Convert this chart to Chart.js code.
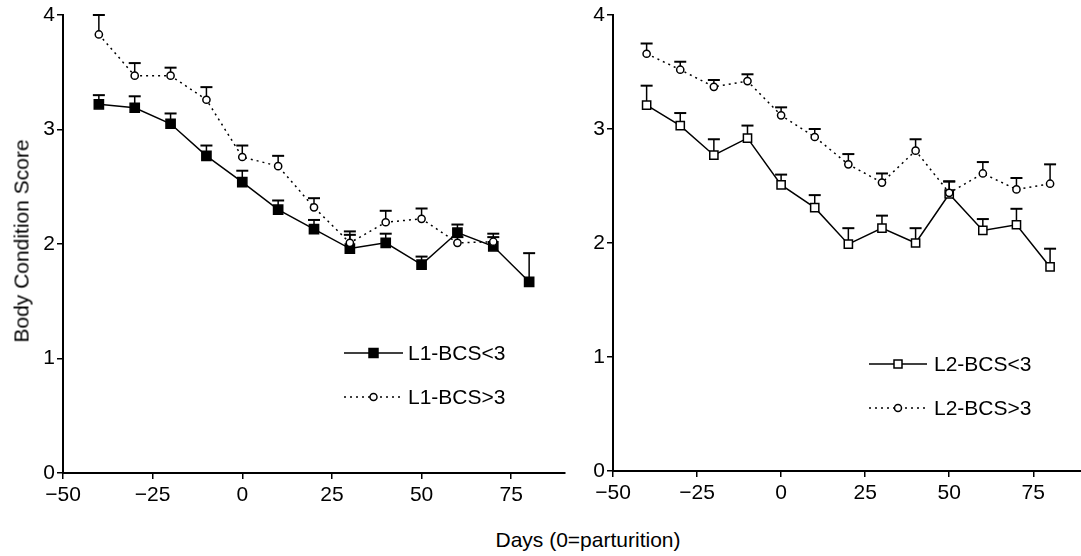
<!DOCTYPE html>
<html>
<head>
<meta charset="utf-8">
<script src="https://cdn.jsdelivr.net/npm/chart.js@4/dist/chart.umd.min.js"></script>
<style>
  body { margin: 0; background: #fff; overflow: hidden; width: 1081px; height: 556px; position: relative; }
  canvas { position: absolute; top: 0; }
  #leftChart { left: 0; }
  #rightChart { left: 550px; }
  .axis-title { position: absolute; font-family: "Liberation Sans", Arial, sans-serif; font-size: 21px; line-height: 21px; white-space: nowrap; color: #000; }
  #yTitle { left: 21px; top: 241px; transform: translate(-50%, -50%) rotate(-90deg); }
  #xTitle { left: 588px; top: 529px; transform: translateX(-50%); }
</style>
</head>
<body>
<canvas id="leftChart" width="580" height="515"></canvas>
<canvas id="rightChart" width="541" height="515"></canvas>
<div class="axis-title" id="yTitle">Body Condition Score</div>
<div class="axis-title" id="xTitle">Days (0=parturition)</div>
<script>
// Days relative to parturition
const days = [-40, -30, -20, -10, 0, 10, 20, 30, 40, 50, 60, 70, 80];
const xTicks = [-50, -25, 0, 25, 50, 75];
const yTicks = [0, 1, 2, 3, 4];

// Lactation 1
const l1LowMean = [3.22, 3.19, 3.05, 2.77, 2.54, 2.30, 2.13, 1.96, 2.01, 1.82, 2.10, 1.98, 1.67];
const l1LowSE   = [0.08, 0.10, 0.09, 0.09, 0.10, 0.08, 0.08, 0.12, 0.08, 0.07, 0.07, 0.08, 0.25];
const l1HighMean = [3.83, 3.47, 3.47, 3.26, 2.76, 2.68, 2.32, 2.01, 2.19, 2.22, 2.01, 2.02];
const l1HighSE   = [0.17, 0.11, 0.07, 0.11, 0.10, 0.09, 0.08, 0.10, 0.10, 0.09, 0.05, 0.07];

// Lactation 2
const l2LowMean = [3.21, 3.03, 2.77, 2.92, 2.51, 2.31, 1.99, 2.13, 2.00, 2.43, 2.11, 2.16, 1.79];
const l2LowSE   = [0.17, 0.11, 0.14, 0.11, 0.09, 0.11, 0.14, 0.11, 0.13, 0.11, 0.10, 0.14, 0.16];
const l2HighMean = [3.66, 3.52, 3.37, 3.42, 3.12, 2.93, 2.69, 2.53, 2.81, 2.44, 2.61, 2.47, 2.52];
const l2HighSE   = [0.09, 0.07, 0.06, 0.06, 0.07, 0.07, 0.09, 0.08, 0.10, 0.10, 0.10, 0.10, 0.17];

const FONT = '"Liberation Sans", Arial, sans-serif';
const DOTS = [2, 4];

function toPoints(means) {
    return means.map((v, i) => ({ x: days[i], y: v }));
}

// Upward-only error bars with a cap
const errorBars = {
    id: 'errorBars',
    beforeDatasetsDraw(chart) {
        const ctx = chart.ctx;
        const yScale = chart.scales.y;
        chart.data.datasets.forEach((ds, i) => {
            const meta = chart.getDatasetMeta(i);
            ctx.save();
            ctx.strokeStyle = '#000';
            meta.data.forEach((pt, j) => {
                const top = yScale.getPixelForValue(ds.data[j].y + ds.se[j]);
                ctx.lineWidth = 1.5;
                ctx.beginPath();
                ctx.moveTo(pt.x, pt.y);
                ctx.lineTo(pt.x, top);
                ctx.stroke();
                ctx.lineWidth = 2;
                ctx.beginPath();
                ctx.moveTo(pt.x - 6, top);
                ctx.lineTo(pt.x + 6, top);
                ctx.stroke();
            });
            ctx.restore();
        });
    }
};

// Legend drawn inside the plot: line, marker in the middle, text
const lineLegend = {
    id: 'lineLegend',
    afterDraw(chart, args, opts) {
        const ctx = chart.ctx;
        opts.items.forEach((item, k) => {
            const y = opts.rows[k];
            ctx.save();
            ctx.strokeStyle = '#000';
            ctx.lineWidth = 1.5;
            ctx.setLineDash(item.dash);
            ctx.beginPath();
            ctx.moveTo(opts.x1, y);
            ctx.lineTo(opts.x2, y);
            ctx.stroke();
            ctx.setLineDash([]);
            const mx = (opts.x1 + opts.x2) / 2;
            ctx.fillStyle = item.fill;
            ctx.beginPath();
            if (item.style === 'rect') {
                ctx.rect(mx - item.size / 2, y - item.size / 2, item.size, item.size);
            } else {
                ctx.arc(mx, y, item.size / 2, 0, Math.PI * 2);
            }
            ctx.fill();
            ctx.stroke();
            ctx.fillStyle = '#000';
            ctx.font = '21px ' + FONT;
            ctx.textBaseline = 'middle';
            ctx.textAlign = 'left';
            ctx.fillText(item.label, opts.xt, y + 1);
            ctx.restore();
        });
    }
};

function makeScales(xMax, xHeight) {
    return {
        x: {
            type: 'linear',
            min: -50,
            max: xMax,
            afterBuildTicks: s => { s.ticks = xTicks.map(v => ({ value: v })); },
            afterFit: s => { s.height = xHeight; },
            grid: { display: true, drawOnChartArea: false, drawTicks: true, tickLength: 6, color: '#000', lineWidth: 1.5 },
            border: { display: true, color: '#000', width: 2 },
            ticks: {
                color: '#000',
                font: { family: FONT, size: 21 },
                padding: 4,
                maxRotation: 0,
                callback: v => (v < 0 ? '\u2212' + Math.abs(v) : String(v))
            }
        },
        y: {
            type: 'linear',
            min: 0,
            max: 4,
            afterBuildTicks: s => { s.ticks = yTicks.map(v => ({ value: v })); },
            afterFit: s => { s.width = 63; },
            grid: { display: true, drawOnChartArea: false, drawTicks: true, tickLength: 6, color: '#000', lineWidth: 1.5 },
            border: { display: true, color: '#000', width: 2 },
            ticks: {
                color: '#000',
                font: { family: FONT, size: 21 },
                padding: 2
            }
        }
    };
}

function lowSeries(means, se) {
    return {
        data: toPoints(means),
        se: se,
        borderColor: '#000',
        borderWidth: 1.5,
        pointStyle: 'rect',
        pointRadius: 6.3,
        pointBorderWidth: 1.5,
        pointBorderColor: '#000',
        order: 1
    };
}

function highSeries(means, se) {
    return {
        data: toPoints(means),
        se: se,
        borderColor: '#000',
        borderWidth: 1.5,
        borderDash: DOTS,
        pointStyle: 'circle',
        pointRadius: 3.6,
        pointBorderWidth: 1.5,
        pointBorderColor: '#000',
        pointBackgroundColor: '#fff',
        order: 0
    };
}

function makeChart(id, lowDs, highDs, xMax, xHeight, padRight, legend) {
    new Chart(document.getElementById(id), {
        type: 'line',
        data: { datasets: [highDs, lowDs] },
        options: {
            responsive: false,
            animation: false,
            devicePixelRatio: 1,
            layout: { padding: { top: 15, right: padRight, left: 0, bottom: 0 } },
            scales: makeScales(xMax, xHeight),
            plugins: {
                legend: { display: false },
                tooltip: { enabled: false },
                lineLegend: legend
            },
            elements: { line: { tension: 0 } }
        },
        plugins: [errorBars, lineLegend]
    });
}

const l1Low = lowSeries(l1LowMean, l1LowSE);
l1Low.pointBackgroundColor = '#000';
l1Low.pointRadius = 6.5;
const l2Low = lowSeries(l2LowMean, l2LowSE);
l2Low.pointBackgroundColor = '#fff';
l2Low.pointRadius = 5.8;

makeChart('leftChart', l1Low, highSeries(l1HighMean, l1HighSE), 90, 42, 15, {
    x1: 344, x2: 403, xt: 408, rows: [353, 397],
    items: [
        { label: 'L1-BCS<3', dash: [], style: 'rect', size: 9, fill: '#000' },
        { label: 'L1-BCS>3', dash: DOTS, style: 'circle', size: 7, fill: '#fff' }
    ]
});

makeChart('rightChart', l2Low, highSeries(l2HighMean, l2HighSE), 90, 44, 0, {
    x1: 319, x2: 377, xt: 384, rows: [364, 408],
    items: [
        { label: 'L2-BCS<3', dash: [], style: 'rect', size: 8, fill: '#fff' },
        { label: 'L2-BCS>3', dash: DOTS, style: 'circle', size: 7, fill: '#fff' }
    ]
});
</script>
</body>
</html>
